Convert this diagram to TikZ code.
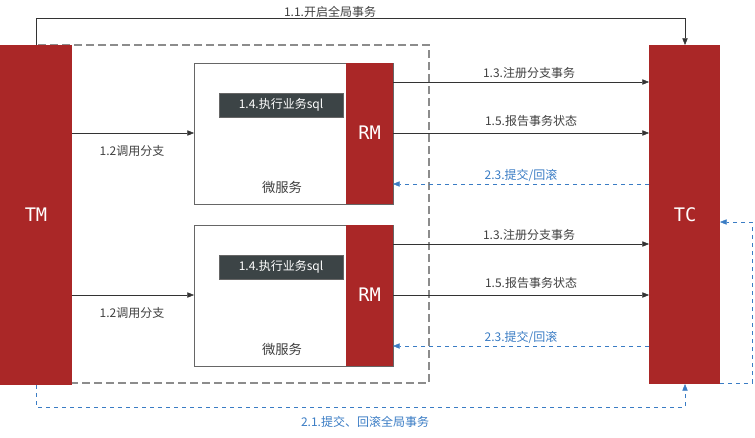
\documentclass[tikz,border=0pt]{standalone}
\usepackage{fontspec}
\setmainfont{DejaVu Sans Mono}
\newfontfamily\cjk{Noto Sans CJK SC}
\usetikzlibrary{arrows.meta}
\definecolor{rd}{HTML}{AA2727}
\definecolor{bl}{HTML}{3A7CC4}
\definecolor{dk}{HTML}{3C4446}
\begin{document}
\begin{tikzpicture}[x=0.75pt,y=-0.75pt,
  red/.style={fill=rd,draw=none},
  lbl/.style={font=\cjk\fontsize{9}{10}\selectfont,text=black!75},
  blbl/.style={font=\cjk\fontsize{9}{10}\selectfont,text=bl},
  arr/.style={-{Triangle[length=5pt,width=4pt]},black!80},
  barr/.style={-{Triangle[length=5pt,width=4pt]},bl,dashed},
  big/.style={font=\fontsize{14}{16}\selectfont,text=white}]
\useasboundingbox (0,0) rectangle (755,437);
\draw[black!45,dashed,line width=1.5pt,dash pattern=on 6pt off 3pt] (36,45) rectangle (429,383);
\fill[red] (0,45) rectangle (72,385);
\node[big] (tm) at (36,215) {TM};
\fill[red] (649,45) rectangle (720,384);
\node[big] (tc) at (685,215) {TC};
\foreach \i/\y in {1/63,2/225}{
  \draw[black!60,fill=white] (194,\y) rectangle (393,\y+141);
  \fill[red] (346,\y) rectangle (393,\y+141);
  \node[big] (rm\i) at (369.5,\y+70) {RM};
  \node[font=\cjk\fontsize{10}{12}\selectfont,text=black!75] (ms\i) at (282,\y+124) {微服务};
  \node[fill=dk,draw=black!60,text=white,font=\cjk\fontsize{9}{10}\selectfont,minimum width=93pt,minimum height=18pt,inner sep=1pt] (ex\i) at (281,\y+42) {1.4.执行业务sql};
}
\coordinate (ta) at (36,45); \coordinate (tb) at (685,45);
\draw[arr] (ta) -- (36,18) -- (685,18) -- (tb);
\node[lbl] (l11) at (330,12) {1.1.开启全局事务};
\foreach \i/\y in {1/63,2/225}{
  \coordinate (r1\i) at (393,\y+19); \coordinate (t1\i) at (649,\y+19);
  \draw[arr] (r1\i) -- (t1\i);
  \node[lbl] (a\i) at (529,\y+10) {1.3.注册分支事务};
  \coordinate (r2\i) at (393,\y+70); \coordinate (t2\i) at (649,\y+70);
  \draw[arr] (r2\i) -- (t2\i);
  \node[lbl] (b\i) at (531,\y+58) {1.5.报告事务状态};
  \coordinate (r3\i) at (393,\y+121); \coordinate (t3\i) at (649,\y+121);
  \draw[barr] (t3\i) -- (r3\i);
  \node[blbl] (c\i) at (521,\y+112) {2.3.提交/回滚};
  \coordinate (m1\i) at (72,\y+70); \coordinate (m2\i) at (194,\y+70);
  \draw[arr] (m1\i) -- (m2\i);
  \node[lbl] (d\i) at (132,\y+88) {1.2调用分支};
}
\coordinate (ba) at (36,385); \coordinate (bb) at (685,384);
\draw[barr] (ba) -- (36,407) -- (685,407) -- (bb);
\node[blbl] (l21) at (365,422) {2.1.提交、回滚全局事务};
\coordinate (ra) at (720,383); \coordinate (rb) at (720,222);
\draw[barr] (ra) -- (752,383) -- (752,222) -- (rb);
\end{tikzpicture}
\end{document}
